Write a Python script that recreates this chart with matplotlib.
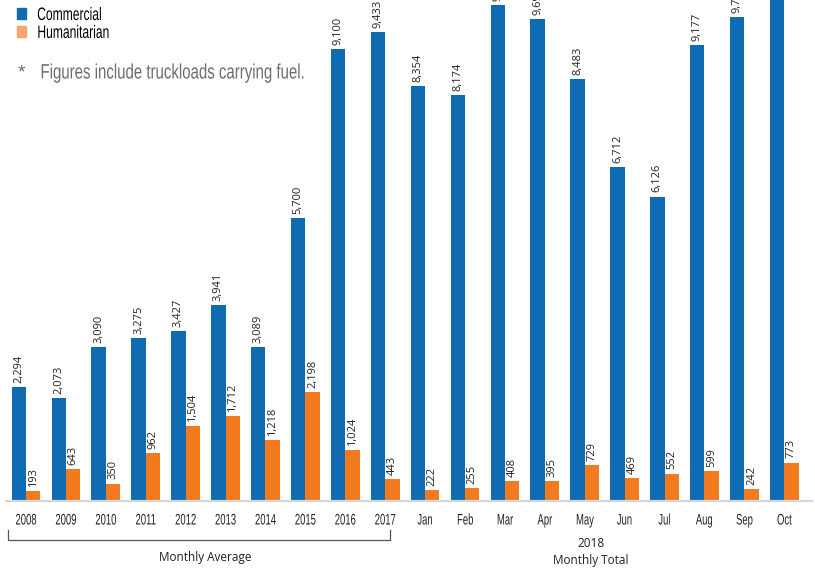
import matplotlib.pyplot as plt
import matplotlib.transforms as mtransforms
from matplotlib.patches import Patch
from matplotlib.patheffects import AbstractPathEffect
import numpy as np

# ---------------------------------------------------------------
# data (truckloads into Gaza)
# ---------------------------------------------------------------
PERIODS = ['2008', '2009', '2010', '2011', '2012', '2013', '2014', '2015', '2016', '2017',
           'Jan', 'Feb', 'Mar', 'Apr', 'May', 'Jun', 'Jul', 'Aug', 'Sep', 'Oct']
COMMERCIAL = [2294, 2073, 3090, 3275, 3427, 3941, 3089, 5700, 9100, 9433,
              8354, 8174, 9985, 9690, 8483, 6712, 6126, 9177, 9730, 10500]
HUMANITARIAN = [193, 643, 350, 962, 1504, 1712, 1218, 2198, 1024, 443,
                222, 255, 408, 395, 729, 469, 552, 599, 242, 773]

BLUE = '#0F6CB2'
ORANGE = '#F47A20'
ORANGE_LEGEND = '#F9A46E'
SANS = ['Liberation Sans', 'DejaVu Sans']
LABEL_FONT = ['Open Sans', 'DejaVu Sans']


class Squeeze(AbstractPathEffect):
    """Narrow a text horizontally (no condensed font installed)."""

    def __init__(self, sx=0.68, anchor='center'):
        super().__init__()
        self.sx = sx
        self.anchor = anchor

    def draw_path(self, renderer, gc, tpath, affine, rgbFace=None):
        ext = tpath.get_extents(affine)
        cx = ext.x0 if self.anchor == 'left' else (ext.x0 + ext.x1) / 2
        aff = affine + mtransforms.Affine2D().translate(-cx, 0).scale(self.sx, 1).translate(cx, 0)
        renderer.draw_path(gc, tpath, aff, rgbFace)


fig = plt.figure(figsize=(8.15, 5.69), dpi=100)
ax = fig.add_axes([0, 68 / 569, 1, 501 / 569])

x = np.arange(len(PERIODS))
w = 0.36
b1 = ax.bar(x - w / 2, COMMERCIAL, w, color=BLUE, zorder=2)
b2 = ax.bar(x + w / 2, HUMANITARIAN, w, color=ORANGE, zorder=2)

# rotated value labels
for bars, vals in ((b1, COMMERCIAL), (b2, HUMANITARIAN)):
    for rect, v in zip(bars, vals):
        ax.annotate(f'{v:,}', (rect.get_x() + rect.get_width() / 2, v),
                    xytext=(0, 3), textcoords='offset points',
                    rotation=90, ha='center', va='bottom',
                    fontsize=8, family=LABEL_FONT, color='#222222')

ax.set_xlim(-0.652, 19.77)
ax.set_ylim(0, 10080)

for s in ['top', 'right', 'left']:
    ax.spines[s].set_visible(False)
ax.spines['bottom'].set_bounds(-0.5, 19.7)
ax.spines['bottom'].set_color('#d6d6d6')
ax.spines['bottom'].set_linewidth(1.6)
ax.set_yticks([])
ax.set_xticks(x)
ax.set_xticklabels(PERIODS, family=SANS, fontsize=11, color='#222222')
for t in ax.get_xticklabels():
    t.set_path_effects([Squeeze(0.62)])
ax.tick_params(axis='x', length=0, pad=9)

# bracket + group captions
trans = mtransforms.blended_transform_factory(ax.transData, ax.transAxes)
ax.plot([-0.45, -0.45, 9.12, 9.12], [-0.058, -0.078, -0.078, -0.058],
        transform=trans, color='#555555', lw=0.9, clip_on=False)
ax.text(4.5, -0.112, 'Monthly Average', transform=trans, ha='center', va='center',
        fontsize=8.5, family=LABEL_FONT, color='#222222')
ax.text(14.15, -0.084, '2018', transform=trans, ha='center', va='center',
        fontsize=8.5, family=LABEL_FONT, color='#222222')
ax.text(14.15, -0.118, 'Monthly Total', transform=trans, ha='center', va='center',
        fontsize=8.5, family=LABEL_FONT, color='#222222')

# legend + footnote
handles = [Patch(color=BLUE), Patch(color=ORANGE_LEGEND)]
leg = ax.legend(handles, ['Commercial', 'Humanitarian'], loc='upper left',
                bbox_to_anchor=(17 / 815, 1 - 7 / 569), bbox_transform=fig.transFigure,
                frameon=False, handlelength=0.5, handleheight=0.5,
                handletextpad=0.6, labelspacing=0.05, borderpad=0, borderaxespad=0,
                prop={'family': SANS, 'size': 13})
for t in leg.get_texts():
    t.set_path_effects([Squeeze(0.67, 'left')])

fig.text(18 / 815, 1 - 73 / 569, '*', ha='left', va='center', fontsize=14,
         family=SANS, color='#6d6d6d')
note = fig.text(40 / 815, 1 - 73 / 569, 'Figures include truckloads carrying fuel.',
                ha='left', va='center', fontsize=15, family=SANS, color='#6d6d6d')
note.set_path_effects([Squeeze(0.72, 'left')])

fig.savefig('out.png', dpi=100)
